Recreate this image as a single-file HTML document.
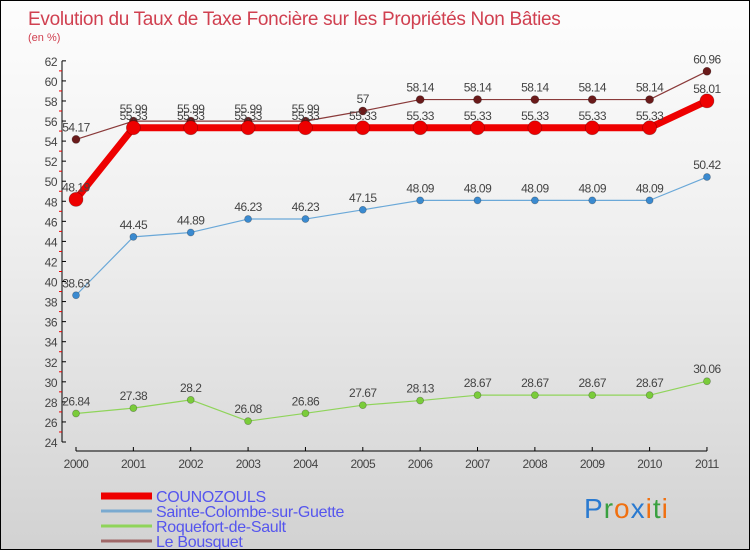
<!DOCTYPE html>
<html><head><meta charset="utf-8"><style>
body{margin:0}
#c{width:748px;height:548px;border:1px solid #000;background:linear-gradient(#fdfdfd,#f0f0f0 40%,#d2d2d2);position:relative;font-family:"Liberation Sans",sans-serif;overflow:hidden}
</style></head><body>
<div id="c">
<svg width="748" height="548" id="s"></svg>
</div>
<script>
const years=["2000","2001","2002","2003","2004","2005","2006","2007","2008","2009","2010","2011"];
const counozouls=[48.19,55.33,55.33,55.33,55.33,55.33,55.33,55.33,55.33,55.33,55.33,58.01];
const sainte=[38.63,44.45,44.89,46.23,46.23,47.15,48.09,48.09,48.09,48.09,48.09,50.42];
const roquefort=[26.84,27.38,28.2,26.08,26.86,27.67,28.13,28.67,28.67,28.67,28.67,30.06];
const bousquet=[54.17,55.99,55.99,55.99,55.99,57,58.14,58.14,58.14,58.14,58.14,60.96];
const yTicks=[24,26,28,30,32,34,36,38,40,42,44,46,48,50,52,54,56,58,60,62];
const NS="http://www.w3.org/2000/svg";
const s=document.getElementById('s');
const X=i=>75+i*57.36;
const Y=v=>441-(v-24)*10.03;
function el(t,a,txt){const e=document.createElementNS(NS,t);for(const k in a)e.setAttribute(k,a[k]);if(txt!==undefined)e.textContent=txt;s.appendChild(e);return e;}
let t=el('text',{x:27,y:24,'font-size':19,fill:'#d04050','letter-spacing':'-0.3'},'Evolution du Taux de Taxe Foncière sur les Propriétés Non Bâties');


t=el('text',{x:27,y:40,'font-size':11,fill:'#d04050'},'(en %)');


let a=el('line',{x1:61,y1:Y(62),x2:61,y2:Y(24),stroke:'#000','stroke-width':1});


a=el('line',{x1:75,y1:450,x2:706,y2:450,stroke:'#000','stroke-width':1});


yTicks.forEach(v=>{
 el('line',{x1:61,y1:Y(v),x2:65,y2:Y(v),stroke:'#000'});
 if(v<62) el('line',{x1:58,y1:Y(v+1),x2:61,y2:Y(v+1),stroke:'#e00'});
 const l=el('text',{x:56,y:Y(v)+5,'font-size':12,fill:'#444','text-anchor':'end','letter-spacing':'-0.5'},v);
 
 
});
years.forEach((y,i)=>{
 el('line',{x1:X(i),y1:446,x2:X(i),y2:450,stroke:'#000'});
 const l=el('text',{x:X(i),y:467,'font-size':12,fill:'#444','text-anchor':'middle','letter-spacing':'-0.5'},y);
 
 
});
function series(d,color,w,r,dot,name,dy){
 const p=el('polyline',{points:d.map((v,i)=>X(i)+','+Y(v)).join(' '),fill:'none',stroke:color,'stroke-width':w,'stroke-linejoin':'round'});
 
 
 d.forEach((v,i)=>{
  const c=el('circle',{cx:X(i),cy:Y(v),r:r,fill:dot,stroke:'rgba(0,0,0,0.3)','stroke-width':0.7});
  
  
  const l=el('text',{x:X(i),y:Y(v)+dy,'font-size':12,fill:'#444','text-anchor':'middle','letter-spacing':'-0.5'},v);
  
  
 });
}
series(roquefort,'#8fd45a',1.2,3.5,'#7acc3a','roquefort',-8);
series(sainte,'#6aa8d8',1.2,3.5,'#3a8ad0','sainte-colombe',-8);
series(bousquet,'#8a3a3a',1.2,4,'#6a1a1a','le-bousquet',-8);
series(counozouls,'#ee0000',7,7,'#ee0000','counozouls',-8);
const leg=[['COUNOZOULS','#ee0000',7],['Sainte-Colombe-sur-Guette','#7aaad0',3],['Roquefort-de-Sault','#8fd45a',3],['Le Bousquet','#a06868',3]];
leg.forEach((e,i)=>{
 const y=492+i*15;
 const l=el('line',{x1:100,y1:y+3,x2:151,y2:y+3,stroke:e[1],'stroke-width':e[2]});
 
 
 const tx=el('text',{x:155,y:y+9,'font-size':16,fill:'#5555ee','letter-spacing':'-0.3'},e[0]);
 
 
});
const g=el('text',{x:583,y:517,'font-size':28,'letter-spacing':'1'},'');


[['P','#2a7ad0'],['r','#3aa040'],['o','#f07010'],['x','#2a7ad0'],['i','#f07010'],['t','#3aa040'],['i','#f07010']].forEach(c=>{const sp=document.createElementNS(NS,'tspan');sp.setAttribute('fill',c[1]);sp.textContent=c[0];g.appendChild(sp);});
</script>
</body></html>
